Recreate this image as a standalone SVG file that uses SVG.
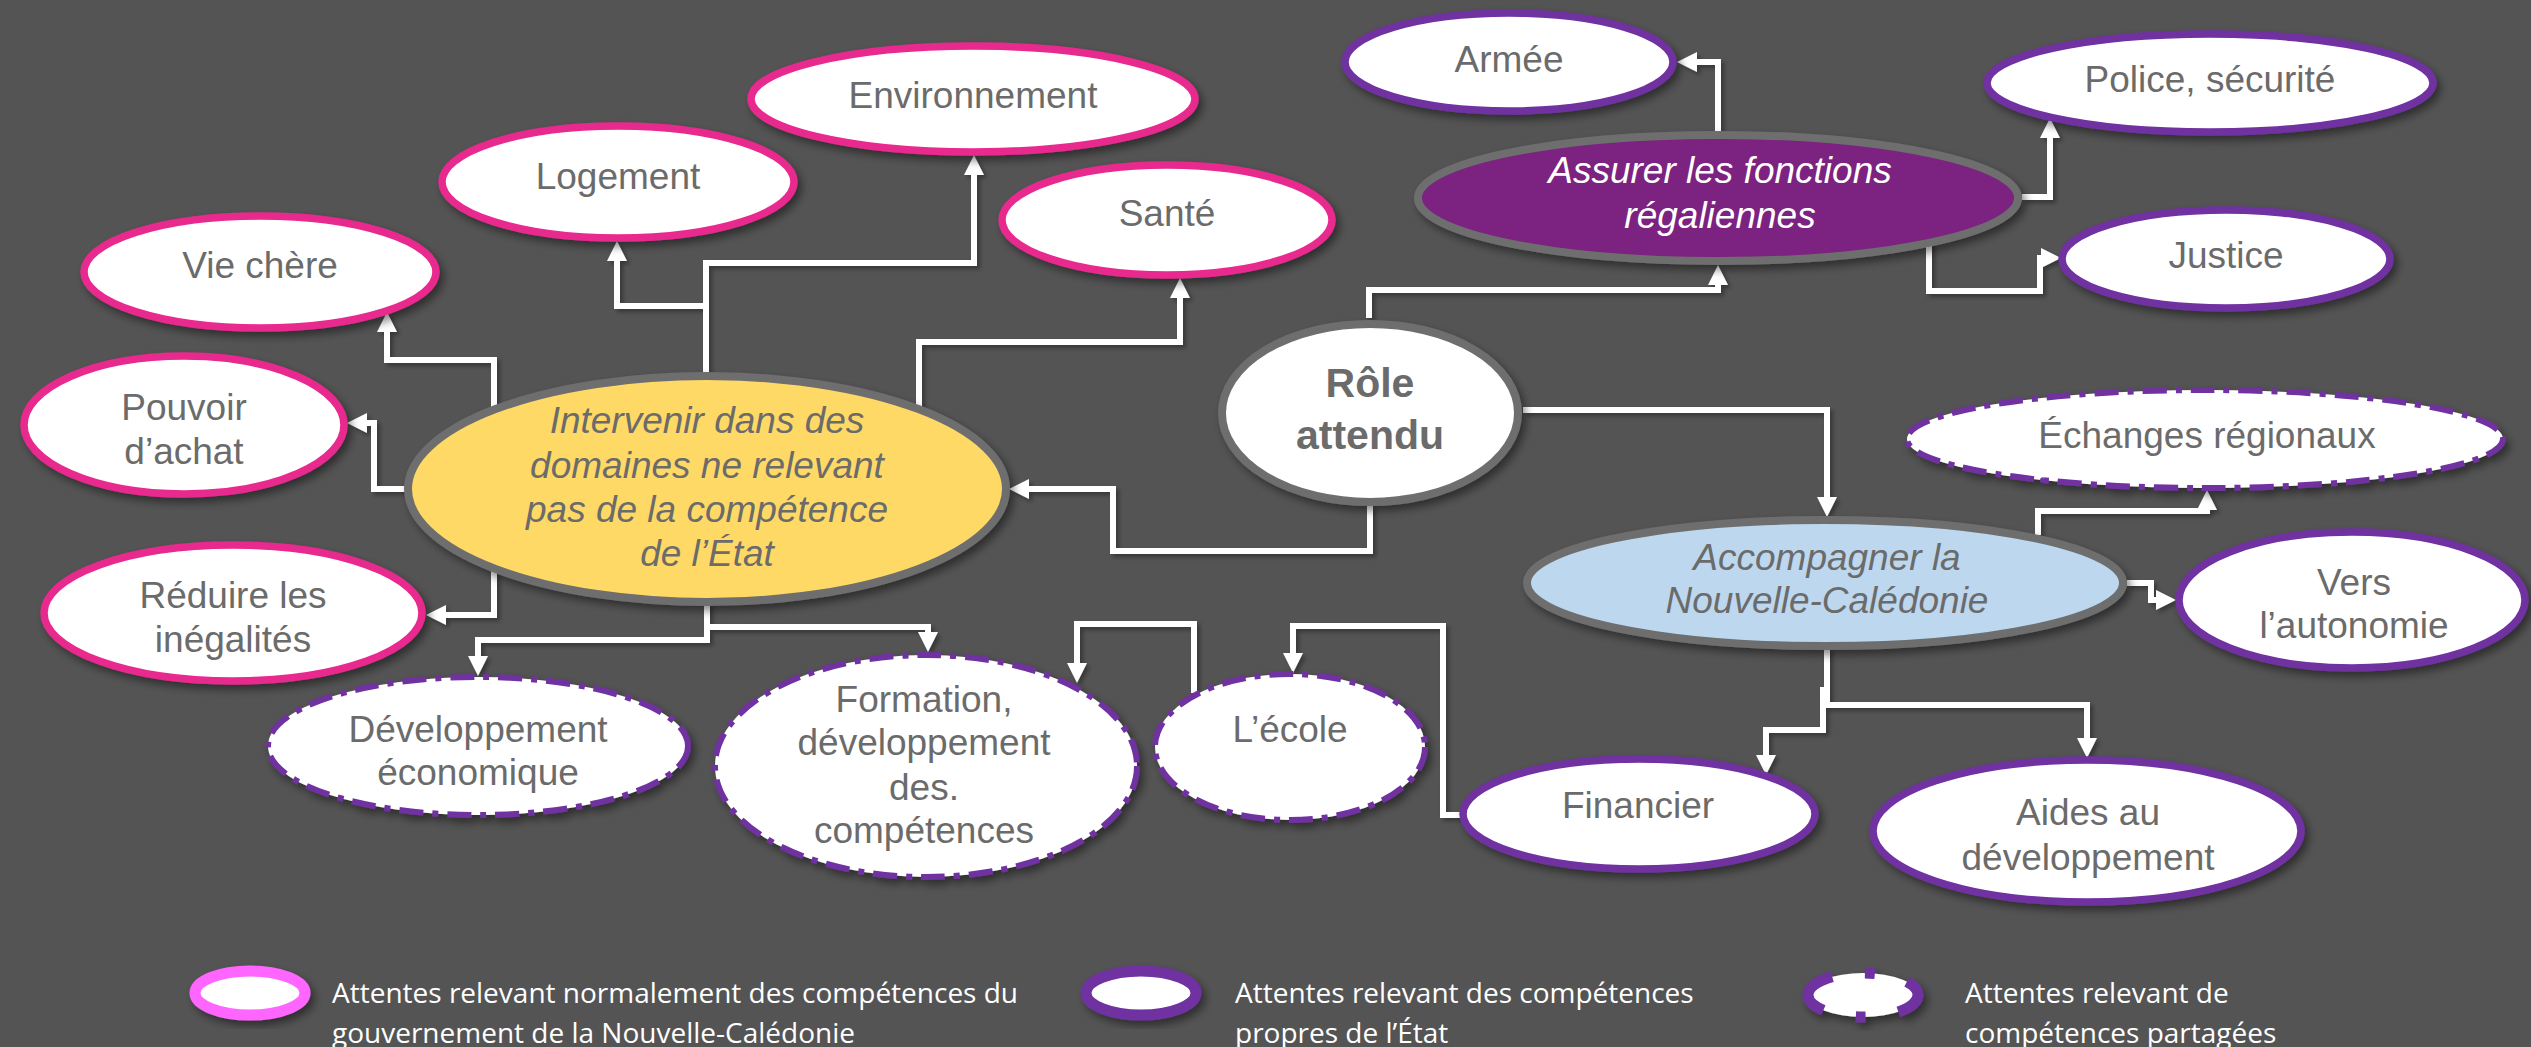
<svg xmlns="http://www.w3.org/2000/svg" width="2531" height="1047" viewBox="0 0 2531 1047">
<defs>
<style>
.bg{fill:#545454}
.pink{fill:#fff;stroke:#E8298E;stroke-width:7.5}
.purp{fill:#fff;stroke:#7030A0;stroke-width:7.5}
.dash{fill:#fff;stroke:#7030A0;stroke-width:6;stroke-dasharray:24 9 6 9}
.main{stroke:#6E6E6E;stroke-width:8}
.sh{filter:url(#sh)}
.t{font-family:"Liberation Sans",Arial,sans-serif;font-size:37px;fill:#6b6b6b;text-anchor:middle}
.i{font-style:italic}
.b{font-weight:bold;font-size:41px}
.w{fill:#ffffff}
.lg{font-family:"Open Sans","Liberation Sans",sans-serif;font-size:28px;fill:#ffffff}
.c{fill:none;stroke:#ffffff;stroke-width:6;stroke-linejoin:miter;marker-end:url(#ah)}
</style>
<filter id="sh" x="-20%" y="-20%" width="150%" height="150%">
<feDropShadow dx="4" dy="5" stdDeviation="4" flood-color="#000" flood-opacity="0.45"/>
</filter>
<filter id="csh" x="-10%" y="-10%" width="130%" height="130%">
<feDropShadow dx="3" dy="3" stdDeviation="2" flood-color="#000" flood-opacity="0.35"/>
</filter>
<marker id="ah" markerUnits="userSpaceOnUse" markerWidth="20" markerHeight="20" viewBox="0 0 20 20" refX="10" refY="10" orient="auto">
<path d="M0,0 L20,10 L0,20 z" fill="#ffffff"/>
</marker>
</defs>
<rect class="bg" x="0" y="0" width="2531" height="1047"/>

<g id="connectors" filter="url(#csh)">
<path class="c" d="M706,373 V263 H974 V165"/>
<path class="c" d="M706,306 H617 V251"/>
<path class="c" d="M494,407 V360 H387 V322"/>
<path class="c" d="M919,407 V342 H1180 V288"/>
<path class="c" d="M406,489 H374 V423 H357"/>
<path class="c" d="M1370,505 V551 H1113 V489 H1019"/>
<path class="c" d="M494,570 V615 H436"/>
<path class="c" d="M707,603 V627 H928 V642"/>
<path class="c" d="M707,603 V640 H478 V666"/>
<path class="c" d="M1194,693 V624 H1077 V673"/>
<path class="c" d="M1461,815 H1443 V626 H1293 V663"/>
<path class="c" d="M1369,318 V290 H1718 V275"/>
<path class="c" d="M1718,131 V62 H1687"/>
<path class="c" d="M2022,197 H2050 V128"/>
<path class="c" d="M1929,243 V291 H2040 V258 H2051"/>
<path class="c" d="M1523,410 H1827 V507"/>
<path class="c" d="M2038,535 V511 H2207 V500"/>
<path class="c" d="M2127,583 H2151 V600 H2166"/>
<path class="c" d="M1827,648 V705 H2087 V748"/>
<path class="c" d="M1823,687 V730 H1766 V765"/>
</g>

<g id="n-environnement"><ellipse class="pink sh" cx="973" cy="99" rx="222" ry="53"/><text class="t" x="973" y="108">Environnement</text></g>
<g id="n-logement"><ellipse class="pink sh" cx="618" cy="182" rx="176" ry="56"/><text class="t" x="618" y="189">Logement</text></g>
<g id="n-viechere"><ellipse class="pink sh" cx="260" cy="272" rx="176" ry="56"/><text class="t" x="260" y="278">Vie chère</text></g>
<g id="n-sante"><ellipse class="pink sh" cx="1167" cy="220" rx="165" ry="55"/><text class="t" x="1167" y="226">Santé</text></g>
<g id="n-pouvoir"><ellipse class="pink sh" cx="184" cy="425" rx="160" ry="69"/><text class="t" x="184" y="420">Pouvoir</text><text class="t" x="184" y="464">d’achat</text></g>
<g id="n-reduire"><ellipse class="pink sh" cx="233" cy="613" rx="189" ry="68"/><text class="t" x="233" y="608">Réduire les</text><text class="t" x="233" y="652">inégalités</text></g>

<g id="n-intervenir"><ellipse class="main sh" fill="#FFD966" cx="707" cy="489" rx="299" ry="113"/>
<text class="t i" x="707" y="433">Intervenir dans des</text><text class="t i" x="707" y="478">domaines ne relevant</text><text class="t i" x="707" y="522">pas de la compétence</text><text class="t i" x="707" y="566">de l’État</text></g>

<g id="n-role"><ellipse class="main sh" fill="#ffffff" cx="1370" cy="413" rx="148" ry="89"/><text class="t b" x="1370" y="397">Rôle</text><text class="t b" x="1370" y="449">attendu</text></g>

<g id="n-assurer"><ellipse class="main sh" fill="#7B2180" cx="1718" cy="198" rx="300" ry="63"/><text class="t i w" x="1720" y="183">Assurer les fonctions</text><text class="t i w" x="1720" y="228">régaliennes</text></g>

<g id="n-accompagner"><ellipse class="main sh" fill="#BDD7EE" cx="1825" cy="583" rx="298" ry="63"/><text class="t i" x="1827" y="570">Accompagner la</text><text class="t i" x="1827" y="613">Nouvelle-Calédonie</text></g>

<g id="n-armee"><ellipse class="purp sh" cx="1509" cy="62" rx="164" ry="49"/><text class="t" x="1509" y="72">Armée</text></g>
<g id="n-police"><ellipse class="purp sh" cx="2210" cy="83" rx="223" ry="49"/><text class="t" x="2210" y="92">Police, sécurité</text></g>
<g id="n-justice"><ellipse class="purp sh" cx="2226" cy="259" rx="164" ry="49"/><text class="t" x="2226" y="268">Justice</text></g>
<g id="n-vers"><ellipse class="purp sh" cx="2352" cy="600" rx="173" ry="68"/><text class="t" x="2354" y="595">Vers</text><text class="t" x="2354" y="638">l’autonomie</text></g>
<g id="n-financier"><ellipse class="purp sh" cx="1639" cy="814" rx="176" ry="55"/><text class="t" x="1638" y="818">Financier</text></g>
<g id="n-aides"><ellipse class="purp sh" cx="2087" cy="831" rx="214" ry="71"/><text class="t" x="2088" y="825">Aides au</text><text class="t" x="2088" y="870">développement</text></g>

<g id="n-echanges"><ellipse class="dash sh" cx="2205" cy="439" rx="298" ry="49"/><text class="t" x="2207" y="448">Échanges régionaux</text></g>
<g id="n-developpement"><ellipse class="dash sh" cx="478" cy="746" rx="210" ry="69"/><text class="t" x="478" y="742">Développement</text><text class="t" x="478" y="785">économique</text></g>
<g id="n-formation"><ellipse class="dash sh" cx="926" cy="766" rx="211" ry="111"/><text class="t" x="924" y="712">Formation,</text><text class="t" x="924" y="755">développement</text><text class="t" x="924" y="800">des.</text><text class="t" x="924" y="843">compétences</text></g>
<g id="n-ecole"><ellipse class="dash sh" cx="1290" cy="747" rx="135" ry="73"/><text class="t" x="1290" y="742">L’école</text></g>

<g id="legend">
<ellipse class="sh" cx="250" cy="993" rx="55" ry="22" fill="#fff" stroke="#FF66FF" stroke-width="11"/>
<text class="lg" x="332" y="1003">Attentes relevant normalement des compétences du</text>
<text class="lg" x="332" y="1043">gouvernement de la Nouvelle-Calédonie</text>
<ellipse class="sh" cx="1141" cy="993" rx="55" ry="22" fill="#fff" stroke="#7030A0" stroke-width="11"/>
<text class="lg" x="1235" y="1003">Attentes relevant des compétences</text>
<text class="lg" x="1235" y="1043">propres de l’État</text>
<ellipse class="sh" cx="1863" cy="995" rx="55" ry="22" fill="#fff" stroke="#7030A0" stroke-width="11" stroke-dasharray="55 33 10 33" stroke-dashoffset="27.5"/>
<text class="lg" x="1965" y="1003">Attentes relevant de</text>
<text class="lg" x="1965" y="1043">compétences partagées</text>
</g>
</svg>
